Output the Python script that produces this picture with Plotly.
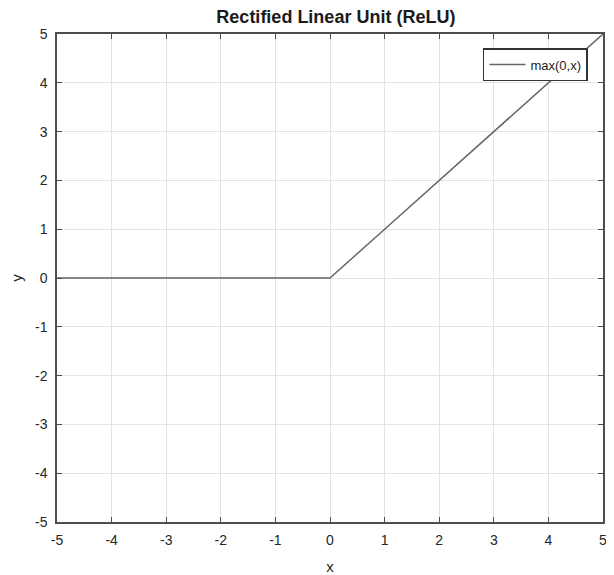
import plotly.graph_objects as go

x_vals = [-5, -4, -3, -2, -1, 0, 1, 2, 3, 4, 5]
y_vals = [0, 0, 0, 0, 0, 0, 1, 2, 3, 4, 5]
tick_vals = [-5, -4, -3, -2, -1, 0, 1, 2, 3, 4, 5]
tick_text = ["-5", "-4", "-3", "-2", "-1", "0", "1", "2", "3", "4", "5"]

font_fam = "Liberation Sans, Arial, sans-serif"
axis_col = "#4d4d4d"

fig = go.Figure()
fig.add_trace(go.Scatter(x=x_vals, y=y_vals, mode="lines", name="max(0,x)",
                         line=dict(color="#666666", width=1.5)))

axis_common = dict(
    range=[-5, 5], tickvals=tick_vals, ticktext=tick_text,
    showgrid=True, gridcolor="#e3e3e3", gridwidth=1,
    zeroline=False, showline=True, linecolor=axis_col, linewidth=1.5,
    mirror="ticks", ticks="inside", ticklen=5, tickcolor=axis_col,
    tickfont=dict(family=font_fam, size=14, color="#262626"),
)

fig.update_layout(
    width=614, height=575,
    margin=dict(l=49, r=19, t=26, b=61, autoexpand=False),
    paper_bgcolor="white", plot_bgcolor="white",
    title=dict(text="<b>Rectified Linear Unit (ReLU)</b>", x=0.534, xanchor="center",
               y=0.985, yanchor="middle",
               font=dict(family=font_fam, size=18, color="#1a1a1a")),
    xaxis=dict(axis_common, ticklabelstandoff=4,
               title=dict(text="x", standoff=15,
                          font=dict(family=font_fam, size=15, color="#262626"))),
    yaxis=dict(axis_common, ticklabelstandoff=5,
               title=dict(text="y", standoff=12,
                          font=dict(family=font_fam, size=15, color="#262626"))),
    showlegend=True,
    legend=dict(x=0.9725, y=0.971, xanchor="right", yanchor="top",
                bgcolor="white", bordercolor="#333333", borderwidth=1.5,
                font=dict(family=font_fam, size=13, color="#262626"),
                itemwidth=36, tracegroupgap=0),
)

fig.write_html("out.html")
